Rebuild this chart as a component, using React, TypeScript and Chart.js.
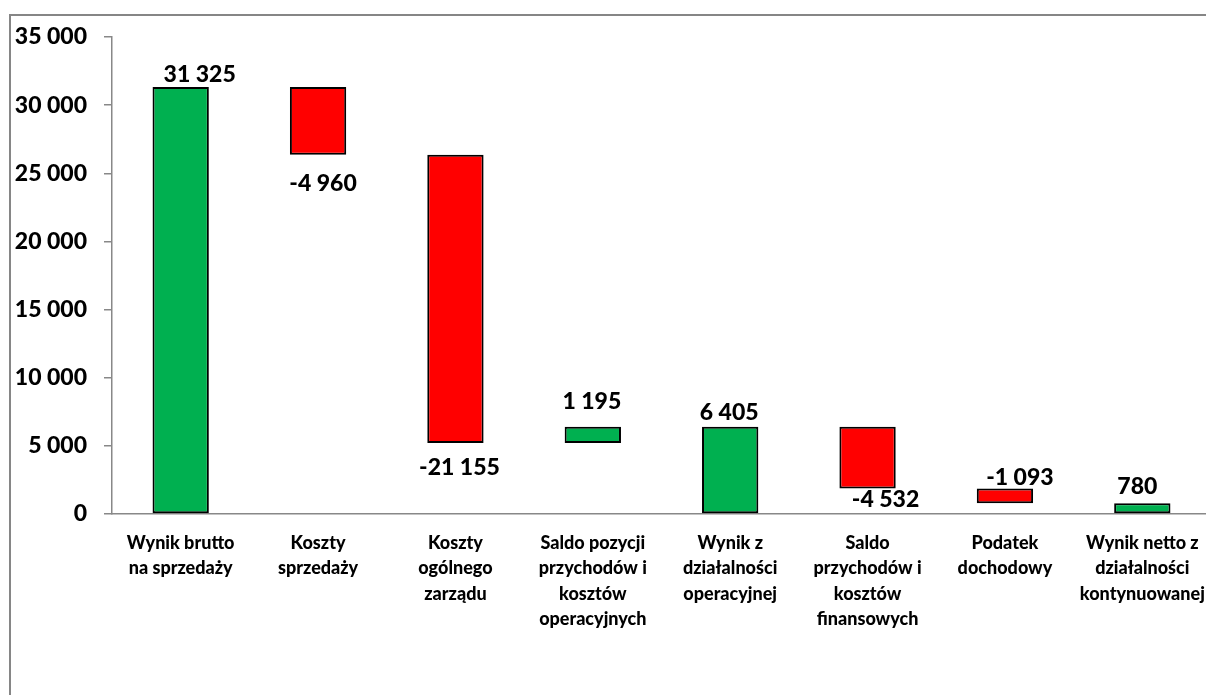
import React, { useEffect, useRef } from "react";
import { Chart, registerables } from "chart.js";

Chart.register(...registerables);

const categories: string[][] = [
  ["Wynik brutto", "na sprzedaży"],
  ["Koszty", "sprzedaży"],
  ["Koszty", "ogólnego", "zarządu"],
  ["Saldo pozycji", "przychodów i", "kosztów", "operacyjnych"],
  ["Wynik z", "działalności", "operacyjnej"],
  ["Saldo", "przychodów i", "kosztów", "finansowych"],
  ["Podatek", "dochodowy"],
  ["Wynik netto z", "działalności", "kontynuowanej"],
];
const values = [31325, -4960, -21155, 1195, 6405, -4532, -1093, 780];
const isTotal = [true, false, false, false, true, false, false, true];
const yMin = 0;
const yMax = 35000;
const yStep = 5000;

// label placement (style only)
const labelEdge = ["top", "bottom", "bottom", "top", "top", "bottom", "top", "top"];
const labelDx = [19, 5, 4, -1, -1, 18, 15, -5];
const labelDy = [-13, 29, 25, -25, -14, 11, -11, -17];

const GREEN = "#00B050";
const RED = "#FF0000";
const AXIS = "#888888";
const FONT = "Lato, 'Open Sans', sans-serif";
const WEIGHT = "900";

function fmt(v: number): string {
  const s = String(Math.abs(Math.round(v))).replace(/\B(?=(\d{3})+(?!\d))/g, " ");
  return (v < 0 ? "-" : "") + s;
}

function buildRanges(): [number, number][] {
  let run = 0;
  return values.map((v, i) => {
    if (isTotal[i]) {
      run = v;
      return [0, v] as [number, number];
    }
    const s = run;
    run += v;
    return [s, run] as [number, number];
  });
}

const labelPlugin = {
  id: "wfLabels",
  afterDatasetsDraw(chart: any) {
    const ctx = chart.ctx;
    const meta = chart.getDatasetMeta(0);
    ctx.save();
    ctx.font = `${WEIGHT} 23px ${FONT}`;
    ctx.fillStyle = "#000";
    ctx.textAlign = "center";
    ctx.textBaseline = "middle";
    meta.data.forEach((el: any, i: number) => {
      const top = Math.min(el.y, el.base);
      const bottom = Math.max(el.y, el.base);
      const ay = labelEdge[i] === "top" ? top : bottom;
      ctx.fillText(fmt(values[i]), el.x + labelDx[i], ay + labelDy[i]);
    });
    ctx.restore();
  },
};

export default function App() {
  const ref = useRef<HTMLCanvasElement>(null);

  useEffect(() => {
    let chart: Chart | null = null;
    let cancelled = false;
    const make = () => {
      if (cancelled || !ref.current) return;
      const ranges = buildRanges();
      chart = new Chart(ref.current, {
        type: "bar",
        data: {
          labels: categories,
          datasets: [
            {
              data: ranges as any,
              backgroundColor: values.map((v) => (v >= 0 ? GREEN : RED)),
              borderColor: "#000",
              borderWidth: 2,
              borderSkipped: false,
              barPercentage: 0.41,
              categoryPercentage: 1,
            },
          ],
        },
        options: {
          responsive: false,
          animation: false,
          devicePixelRatio: 1,
          layout: { padding: { top: 37, right: 19, left: 0, bottom: 0 } },
          plugins: {
            legend: { display: false },
            tooltip: { enabled: false },
            title: { display: false },
          },
          scales: {
            x: {
              type: "category",
              grid: { display: false, drawTicks: false },
              border: { display: true, color: AXIS, width: 1.5 },
              ticks: {
                color: "#000",
                font: { family: FONT, weight: WEIGHT, size: 18, lineHeight: 1.42 },
                padding: 16,
                maxRotation: 0,
                autoSkip: false,
              },
              afterFit: (s: any) => {
                s.height = 181;
              },
            },
            y: {
              min: yMin,
              max: yMax,
              grid: {
                display: true,
                drawOnChartArea: false,
                drawTicks: true,
                tickLength: 8,
                color: AXIS,
                lineWidth: 1.5,
              },
              border: { display: true, color: AXIS, width: 1.5 },
              ticks: {
                stepSize: yStep,
                color: "#000",
                font: { family: FONT, weight: WEIGHT, size: 23 },
                padding: 17,
                callback: (v: any) => fmt(Number(v)),
              },
              afterFit: (s: any) => {
                s.width = 112;
              },
            },
          },
        },
        plugins: [labelPlugin],
      });
    };
    const fontsApi = (document as any).fonts;
    if (fontsApi && fontsApi.load) {
      Promise.all([
        fontsApi.load(`${WEIGHT} 23px Lato`),
        fontsApi.load(`${WEIGHT} 18px Lato`),
      ])
        .catch(() => null)
        .then(make);
    } else {
      make();
    }
    return () => {
      cancelled = true;
      if (chart) chart.destroy();
    };
  }, []);

  return (
    <div
      style={{
        position: "fixed",
        left: 0,
        top: 0,
        width: "100vw",
        height: "100vh",
        overflow: "hidden",
        background: "#fff",
      }}
    >
      <div
        style={{
          position: "absolute",
          left: 9,
          top: 14,
          width: 1400,
          height: 900,
          border: "2px solid #868686",
          boxSizing: "border-box",
        }}
      />
      <canvas
        ref={ref}
        width={1230}
        height={695}
        style={{ position: "absolute", left: 0, top: 0, width: 1230, height: 695, display: "block" }}
      />
    </div>
  );
}
